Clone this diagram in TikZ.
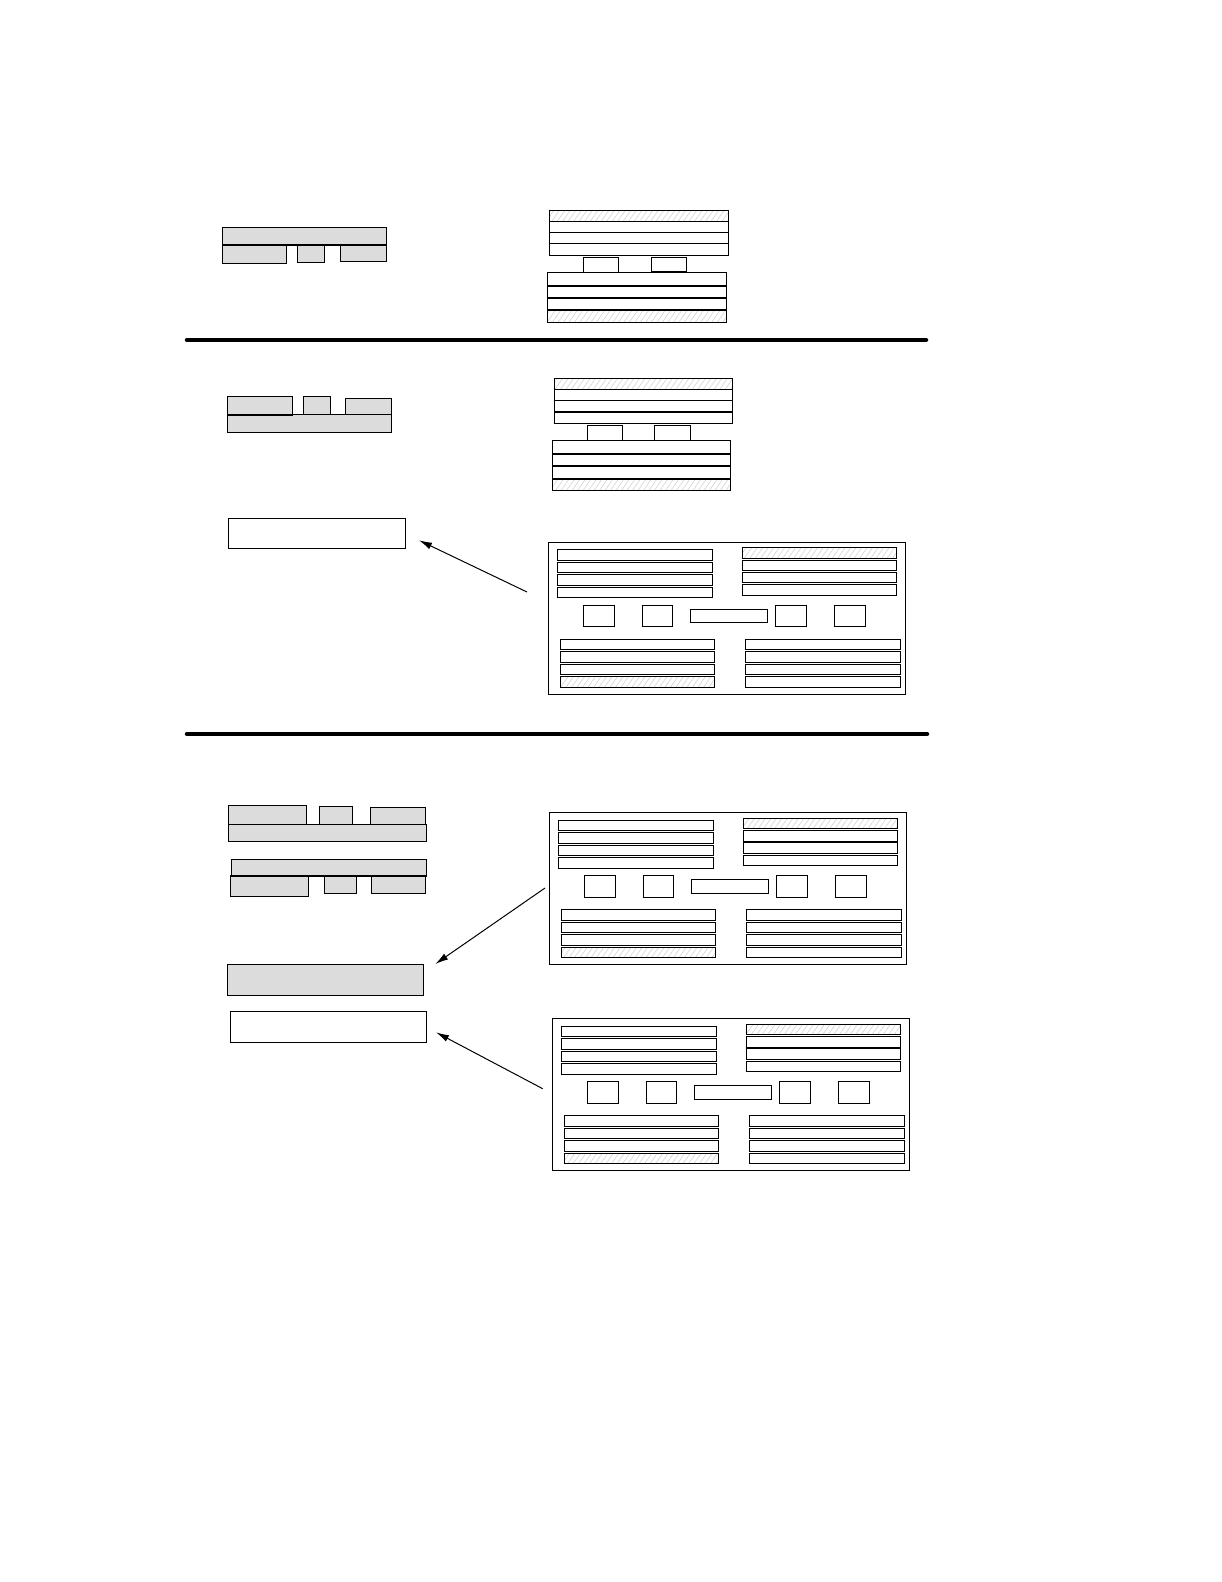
\documentclass[tikz,border=0pt]{standalone}
\usetikzlibrary{arrows.meta,patterns.meta}

\definecolor{partgray}{RGB}{220,220,220}
\definecolor{hatchgray}{RGB}{200,200,200}

\tikzset{
  part/.style={draw,fill=partgray,line width=1pt},
  layer/.style={draw,fill=white,line width=1pt},
  hatched/.style={draw,line width=1pt,pattern={Lines[angle=55,distance=4.5pt,line width=0.45pt]},pattern color=hatchgray},
  seam/.style={line width=2pt},
  sep/.style={line width=4.5pt,line cap=round},
  arr/.style={-{Latex[length=13pt,width=7pt]},line width=1pt},
  box/.style={draw,line width=1pt,inner sep=0pt}
}

% one board: name, top left corner
\newcommand{\drawchassis}[3]{%
  \begin{scope}[shift={(#2,#3)}]
    \node[box,minimum width=357pt,minimum height=152pt,anchor=north west] (#1) at (0,0) {};
    % upper rows
    \foreach \y in {8,20.5,33,45.5}
      \draw[layer] (9,\y) rectangle (164.5,\y+10.5);
    \draw[hatched] (194,6) rectangle (348.5,16.5);
    \foreach \y in {18.3,30.6,42.9}
      \draw[layer] (194,\y) rectangle (348.5,\y+10.5);
    % middle row
    \draw[layer] (35,63.6) rectangle (66.4,85);
    \draw[layer] (94,63.6) rectangle (124.4,85);
    \draw[layer] (142,67.5) rectangle (219.4,80.7);
    \draw[layer] (227,63.6) rectangle (258.4,85);
    \draw[layer] (286,63.6) rectangle (317.4,85);
    % lower rows
    \foreach \y in {97.5,110,122.5}
      \draw[layer] (12,\y) rectangle (166.5,\y+10.5);
    \draw[hatched] (12,135) rectangle (166.5,145.5);
    \foreach \y in {97.5,110,122.5,135}
      \draw[layer] (197,\y) rectangle (352.4,\y+10.5);
  \end{scope}}

\begin{document}
\begin{tikzpicture}[x=1pt,y=-1pt]
  \useasboundingbox (0,0) rectangle (1222,1582);

  % --- top part ---
  \draw[part] (222.3,227.3) rectangle (386.7,245);
  \draw[part] (222.3,245) rectangle (286.7,263.3);
  \draw[part] (297.3,245) rectangle (324.7,262.3);
  \draw[part] (340.3,245) rectangle (386.7,261.3);
  \draw[seam] (222.3,245) -- (386.7,245);

  \draw[hatched] (549.3,210.3) rectangle (728.7,221.3);
  \draw[layer] (549.3,221.3) rectangle (728.7,232.3);
  \draw[layer] (549.3,232.3) rectangle (728.7,243.3);
  \draw[layer] (549.3,243.3) rectangle (728.7,255);
  \draw[layer] (583.3,257.3) rectangle (618.3,272.3);
  \draw[layer] (651.3,257.3) rectangle (686.7,272.3);
  \draw[layer] (547.3,272.3) rectangle (726.7,285.7);
  \draw[layer] (547.3,285.7) rectangle (726.7,298);
  \draw[layer] (547.3,298) rectangle (726.7,310.3);
  \draw[hatched] (547.3,310.3) rectangle (726.7,322.3);
  \foreach \y in {285.7,298,310.3}
    \draw[seam] (547.3,\y) -- (726.7,\y);
  \draw[seam] (651.3,272.3) -- (686.7,272.3);

  \draw[sep] (187,340) -- (926,340);

  % --- middle part ---
  \draw[part] (227.3,396.3) rectangle (292.7,414.7);
  \draw[part] (303.3,396.3) rectangle (330.3,414.7);
  \draw[part] (345.3,398.3) rectangle (391.7,414.7);
  \draw[part] (227.3,414.7) rectangle (391.7,432.3);
  \draw[seam] (227.3,414.7) -- (292.7,414.7);

  \draw[hatched] (554.3,378.3) rectangle (732.7,389.3);
  \draw[layer] (554.3,389.3) rectangle (732.7,400.3);
  \draw[layer] (554.3,400.3) rectangle (732.7,411.7);
  \draw[layer] (554.3,411.7) rectangle (732.7,423);
  \draw[seam] (554.3,411.7) -- (732.7,411.7);
  \draw[layer] (587.3,425.3) rectangle (622.3,441);
  \draw[layer] (654.3,425.3) rectangle (690.3,441);
  \draw[layer] (552.3,440.3) rectangle (730.3,454);
  \draw[layer] (552.3,454) rectangle (730.3,466);
  \draw[layer] (552.3,466) rectangle (730.3,478.7);
  \draw[hatched] (552.3,478.7) rectangle (730.3,490);
  \foreach \y in {454,466,478.7}
    \draw[seam] (552.3,\y) -- (730.3,\y);

  \node[box,minimum width=177pt,minimum height=30pt] (slot) at (316.8,533.3) {};
  \drawchassis{boardA}{548.3}{541.7}
  \coordinate (tailA) at (527,592);
  \coordinate (tipA) at (419,540.3);
  \draw[arr] (tailA) -- (tipA);

  \draw[sep] (187,734) -- (927,734);

  % --- bottom part ---
  \draw[part] (228.3,805) rectangle (306.7,824.3);
  \draw[part] (319.3,806.3) rectangle (352.7,824.3);
  \draw[part] (370.3,807.3) rectangle (425.7,824.3);
  \draw[part] (228.3,824.3) rectangle (426.7,841.3);

  \draw[part] (231.3,859.3) rectangle (426.7,875.7);
  \draw[part] (230.3,875.7) rectangle (308.7,896.3);
  \draw[part] (324.3,875.7) rectangle (356.7,893.3);
  \draw[part] (371.3,875.7) rectangle (425.7,893.3);
  \draw[seam] (231.3,875.7) -- (426.7,875.7);

  \node[box,fill=partgray,minimum width=196pt,minimum height=31pt] (grayslot) at (325.3,979.8) {};
  \node[box,minimum width=196.4pt,minimum height=31.2pt] (whiteslot) at (328.5,1026.9) {};

  \drawchassis{boardB}{549.3}{812.3}
  \drawchassis{boardC}{552.3}{1018.3}

  \coordinate (tailB) at (545,888);
  \coordinate (tipB) at (435.3,964);
  \draw[arr] (tailB) -- (tipB);
  \coordinate (tailC) at (542.7,1088.7);
  \coordinate (tipC) at (436,1032.3);
  \draw[arr] (tailC) -- (tipC);
\end{tikzpicture}
\end{document}
